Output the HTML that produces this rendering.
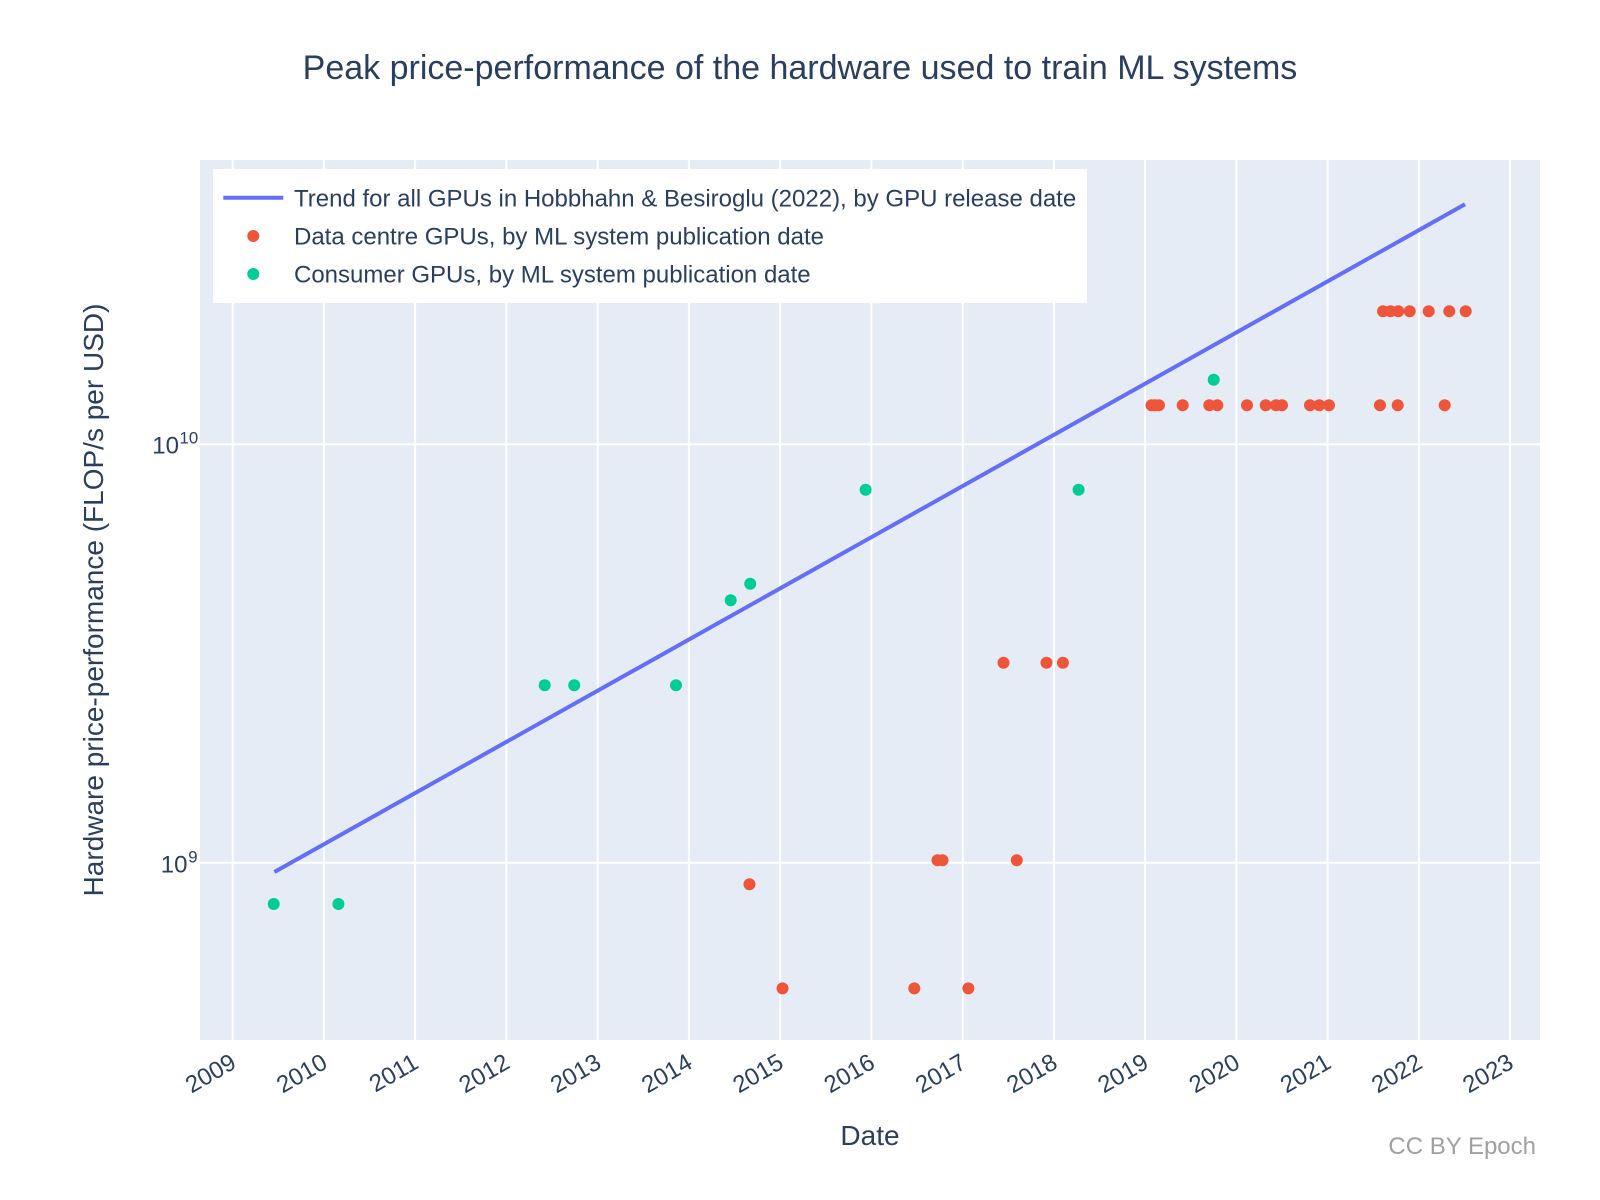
<!DOCTYPE html>
<html>
<head>
<meta charset="utf-8">
<style>
  html, body { margin: 0; padding: 0; background: #ffffff; }
  svg { display: block; }
  text { font-family: "Liberation Sans", Arial, sans-serif; }
</style>
</head>
<body>
<svg width="1600" height="1200" viewBox="0 0 1600 1200" xmlns="http://www.w3.org/2000/svg">
  <rect x="0" y="0" width="1600" height="1200" fill="#ffffff"/>
  <!-- plot area -->
  <rect x="200" y="160" width="1340" height="880" fill="#E5ECF6"/>

  <!-- vertical gridlines -->
  <g stroke="#ffffff" stroke-width="2">
    <line x1="232.7" y1="160" x2="232.7" y2="1040"/>
    <line x1="323.9" y1="160" x2="323.9" y2="1040"/>
    <line x1="415.1" y1="160" x2="415.1" y2="1040"/>
    <line x1="506.3" y1="160" x2="506.3" y2="1040"/>
    <line x1="597.7" y1="160" x2="597.7" y2="1040"/>
    <line x1="688.9" y1="160" x2="688.9" y2="1040"/>
    <line x1="780.1" y1="160" x2="780.1" y2="1040"/>
    <line x1="871.4" y1="160" x2="871.4" y2="1040"/>
    <line x1="962.8" y1="160" x2="962.8" y2="1040"/>
    <line x1="1054.0" y1="160" x2="1054.0" y2="1040"/>
    <line x1="1145.1" y1="160" x2="1145.1" y2="1040"/>
    <line x1="1236.4" y1="160" x2="1236.4" y2="1040"/>
    <line x1="1327.6" y1="160" x2="1327.6" y2="1040"/>
    <line x1="1418.9" y1="160" x2="1418.9" y2="1040"/>
    <line x1="1510.0" y1="160" x2="1510.0" y2="1040"/>
    <!-- horizontal gridlines -->
    <line x1="200" y1="444.3" x2="1540" y2="444.3"/>
    <line x1="200" y1="862.7" x2="1540" y2="862.7"/>
  </g>

  <!-- trend line -->
  <line x1="274.4" y1="872" x2="1465" y2="204.3" stroke="#636EFA" stroke-width="4"/>

  <!-- data centre GPUs -->
  <g fill="#EF553B">
    <circle cx="749.5" cy="884.3" r="6"/>
    <circle cx="782.5" cy="988.4" r="6"/>
    <circle cx="914.3" cy="988.4" r="6"/>
    <circle cx="968.4" cy="988.4" r="6"/>
    <circle cx="937.5" cy="860.2" r="6"/>
    <circle cx="942.5" cy="860.2" r="6"/>
    <circle cx="1016.8" cy="860.2" r="6"/>
    <circle cx="1003.5" cy="662.7" r="6"/>
    <circle cx="1046.5" cy="662.7" r="6"/>
    <circle cx="1062.9" cy="662.7" r="6"/>
    <circle cx="1151.5" cy="405.3" r="6"/>
    <circle cx="1155" cy="405.3" r="6"/>
    <circle cx="1159" cy="405.3" r="6"/>
    <circle cx="1182.7" cy="405.3" r="6"/>
    <circle cx="1209.3" cy="405.3" r="6"/>
    <circle cx="1217.3" cy="405.3" r="6"/>
    <circle cx="1247" cy="405.3" r="6"/>
    <circle cx="1265.7" cy="405.3" r="6"/>
    <circle cx="1276" cy="405.3" r="6"/>
    <circle cx="1282" cy="405.3" r="6"/>
    <circle cx="1310" cy="405.3" r="6"/>
    <circle cx="1319.3" cy="405.3" r="6"/>
    <circle cx="1329" cy="405.3" r="6"/>
    <circle cx="1380" cy="405.3" r="6"/>
    <circle cx="1397.7" cy="405.3" r="6"/>
    <circle cx="1444.7" cy="405.3" r="6"/>
    <circle cx="1383" cy="311.3" r="6"/>
    <circle cx="1390.5" cy="311.3" r="6"/>
    <circle cx="1398.3" cy="311.3" r="6"/>
    <circle cx="1409.7" cy="311.3" r="6"/>
    <circle cx="1428.7" cy="311.3" r="6"/>
    <circle cx="1449.3" cy="311.3" r="6"/>
    <circle cx="1465.7" cy="311.3" r="6"/>
  </g>

  <!-- consumer GPUs -->
  <g fill="#00CC96">
    <circle cx="273.7" cy="904" r="6"/>
    <circle cx="338.4" cy="904" r="6"/>
    <circle cx="544.7" cy="685.3" r="6"/>
    <circle cx="574.2" cy="685.3" r="6"/>
    <circle cx="676.0" cy="685.3" r="6"/>
    <circle cx="730.7" cy="600.3" r="6"/>
    <circle cx="750.2" cy="583.7" r="6"/>
    <circle cx="865.6" cy="489.8" r="6"/>
    <circle cx="1078.6" cy="489.8" r="6"/>
    <circle cx="1213.7" cy="379.7" r="6"/>
  </g>

  <!-- legend -->
  <rect x="213" y="169" width="874" height="134" fill="#ffffff"/>
  <line x1="223.3" y1="197.7" x2="283.3" y2="197.7" stroke="#636EFA" stroke-width="4"/>
  <circle cx="253.3" cy="236" r="6" fill="#EF553B"/>
  <circle cx="253.3" cy="274" r="6" fill="#00CC96"/>
  <g fill="#2a3f5f" font-size="24">
    <text x="294" y="206.7">Trend for all GPUs in Hobbhahn &amp; Besiroglu (2022), by GPU release date</text>
    <text x="294" y="244.7">Data centre GPUs, by ML system publication date</text>
    <text x="294" y="282.7">Consumer GPUs, by ML system publication date</text>
  </g>

  <!-- title -->
  <text x="800" y="79" text-anchor="middle" font-size="34" fill="#2a3f5f">Peak price-performance of the hardware used to train ML systems</text>

  <!-- y tick labels -->
  <g fill="#2a3f5f">
    <text x="179" y="453.3" text-anchor="end" font-size="24">10</text>
    <text x="179.5" y="443.3" font-size="16.8">10</text>
    <text x="187.5" y="872.3" text-anchor="end" font-size="24">10</text>
    <text x="188.3" y="862.3" font-size="16.8">9</text>
  </g>

  <!-- x tick labels -->
  <g fill="#2a3f5f" font-size="24" text-anchor="end">
    <text x="237.7" y="1067" transform="rotate(-30 237.7 1067)">2009</text>
    <text x="328.9" y="1067" transform="rotate(-30 328.9 1067)">2010</text>
    <text x="420.1" y="1067" transform="rotate(-30 420.1 1067)">2011</text>
    <text x="511.3" y="1067" transform="rotate(-30 511.3 1067)">2012</text>
    <text x="602.7" y="1067" transform="rotate(-30 602.7 1067)">2013</text>
    <text x="693.9" y="1067" transform="rotate(-30 693.9 1067)">2014</text>
    <text x="785.1" y="1067" transform="rotate(-30 785.1 1067)">2015</text>
    <text x="876.4" y="1067" transform="rotate(-30 876.4 1067)">2016</text>
    <text x="967.8" y="1067" transform="rotate(-30 967.8 1067)">2017</text>
    <text x="1059.0" y="1067" transform="rotate(-30 1059.0 1067)">2018</text>
    <text x="1150.1" y="1067" transform="rotate(-30 1150.1 1067)">2019</text>
    <text x="1241.4" y="1067" transform="rotate(-30 1241.4 1067)">2020</text>
    <text x="1332.6" y="1067" transform="rotate(-30 1332.6 1067)">2021</text>
    <text x="1423.9" y="1067" transform="rotate(-30 1423.9 1067)">2022</text>
    <text x="1515.0" y="1067" transform="rotate(-30 1515.0 1067)">2023</text>
  </g>

  <!-- axis titles -->
  <text x="870" y="1145" text-anchor="middle" font-size="28" fill="#2a3f5f">Date</text>
  <text x="103" y="600" text-anchor="middle" font-size="28" fill="#2a3f5f" transform="rotate(-90 103 600)">Hardware price-performance (FLOP/s per USD)</text>

  <!-- attribution -->
  <text x="1536" y="1154" text-anchor="end" font-size="24" fill="#a0a0a0">CC BY Epoch</text>
</svg>
</body>
</html>
